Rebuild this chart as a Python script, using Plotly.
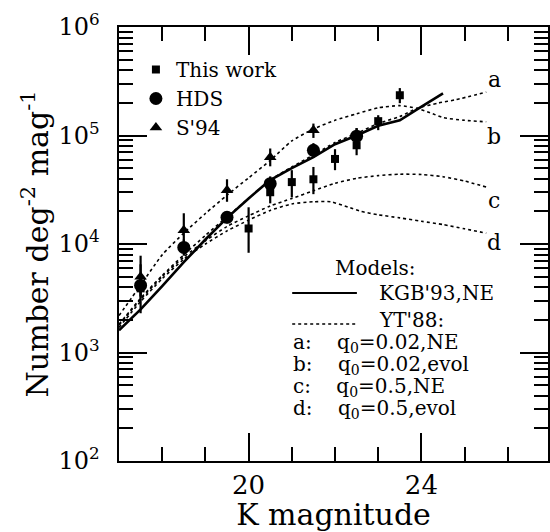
import plotly.graph_objects as go

# ---------------- data ----------------
# This work (squares)
k_this = [17.5, 20.0, 20.5, 21.0, 21.5, 22.0, 22.5, 23.0, 23.5]
n_this = [3900, 13900, 30000, 37200, 39500, 60800, 81300, 135600, 235000]
n_this_hi = [6500, 21800, 41200, 47900, 51300, 74800, 116700, 153800, 273500]
n_this_lo = [2300, 8300, 23700, 26900, 28800, 47900, 65800, 112000, 198600]

# HDS (circles)
k_hds = [17.5, 18.5, 19.5, 20.5, 21.5, 22.5]
n_hds = [4150, 9300, 17600, 36000, 73000, 98600]
n_hds_hi = [5200, 11000, 20000, 42000, 85000, 117000]
n_hds_lo = [3300, 7800, 15500, 31000, 63000, 85000]

# S'94 (triangles)
k_s94 = [17.5, 18.5, 19.5, 20.5, 21.5]
n_s94 = [5000, 13400, 31300, 63000, 112000]
n_s94_hi = [7800, 19200, 39500, 75900, 128800]
n_s94_lo = [3200, 9300, 24500, 52000, 95000]

# KGB'93 NE model (solid)
k_kgb = [17.0, 17.5, 18.0, 18.5, 19.0, 19.5, 20.0, 20.5, 21.0, 21.5, 22.0, 22.5,
         23.0, 23.5, 23.9, 24.5]
n_kgb = [1600, 2500, 4100, 6800, 11000, 17400, 26300, 38900, 50100, 63100, 83200,
         100000, 123000, 138000, 174000, 245000]

# YT'88 models (dotted)
k_a = [17.0, 17.5, 18.0, 18.5, 19.0, 19.5, 20.0, 20.5, 21.0, 21.5, 22.0, 22.5, 23.0,
       23.5, 23.9, 24.4, 24.8, 25.5]
n_a = [1820, 3160, 5130, 7940, 12000, 17800, 26300, 38900, 51300, 66100, 86100,
       104700, 128800, 149600, 177800, 199500, 213800, 251200]

k_b = [17.0, 17.5, 18.0, 18.5, 19.0, 19.5, 20.0, 20.5, 21.0, 21.5, 22.0, 22.5, 23.0,
       23.5, 23.9, 24.2, 24.5, 25.0, 25.5]
n_b = [2190, 4170, 7940, 12600, 19100, 28200, 40700, 58900, 89100, 114800, 138000,
       158500, 179900, 188400, 177800, 162200, 146200, 138000, 133700]

k_c = [17.0, 17.5, 18.0, 18.5, 19.0, 19.5, 20.0, 20.5, 21.0, 21.5, 22.0, 22.5, 23.0,
       23.5, 24.0, 24.5, 25.0, 25.5]
n_c = [1780, 3090, 5010, 7590, 10700, 14500, 18200, 22400, 26300, 30900, 36300,
       40300, 42700, 44000, 43700, 41700, 38000, 33500]

k_d = [17.0, 17.5, 18.0, 18.5, 19.0, 19.5, 20.0, 20.5, 21.0, 21.5, 21.9, 22.3, 22.6,
       23.0, 23.5, 24.0, 24.5, 25.0, 25.5]
n_d = [1700, 2950, 4790, 7240, 10000, 13200, 16600, 20400, 23400, 24500, 24500,
       21900, 20000, 18600, 17400, 16200, 15100, 13800, 12600]

curve_labels = ["a", "b", "c", "d"]
model_lines = ["a:&nbsp;&nbsp;&nbsp; q<sub>0</sub>=0.02,NE",
               "b:&nbsp;&nbsp;&nbsp; q<sub>0</sub>=0.02,evol",
               "c:&nbsp;&nbsp;&nbsp; q<sub>0</sub>=0.5,NE",
               "d:&nbsp;&nbsp;&nbsp; q<sub>0</sub>=0.5,evol"]

x_major = [20, 24]
x_minor = [18, 19, 21, 22, 23, 25, 26]
y_major = [1e2, 1e3, 1e4, 1e5, 1e6]
y_major_text = ["10<sup>%d</sup>&nbsp;&#8201;" % e for e in range(2, 7)]

# ---------------- figure ----------------
FONT = "DejaVu Serif"
W, H = 550, 532
L, R, T, B = 119, 0, 27, 71
PW, PH = W - L - R, H - T - B


def px(xp):
    return (xp - L) / PW


def py(yp):
    return (H - B - yp) / PH


def errs(n, hi, lo):
    return dict(type="data", symmetric=False,
                array=[h - v for h, v in zip(hi, n)],
                arrayminus=[v - l for v, l in zip(n, lo)],
                color="black", thickness=2.2, width=0)


fig = go.Figure()

dot = dict(color="black", width=1.6, dash="dot")
for kk, nn in [(k_a, n_a), (k_b, n_b), (k_c, n_c), (k_d, n_d)]:
    fig.add_trace(go.Scatter(x=kk, y=nn, mode="lines",
                             line=dict(shape="spline", smoothing=0.6, **dot),
                             showlegend=False, hoverinfo="skip"))

fig.add_trace(go.Scatter(x=k_kgb, y=n_kgb, mode="lines",
                         line=dict(color="black", width=2.6), showlegend=False))

fig.add_trace(go.Scatter(x=k_this, y=n_this, mode="markers", name="This work",
                         marker=dict(symbol="square", size=8, color="black"),
                         error_y=errs(n_this, n_this_hi, n_this_lo)))
fig.add_trace(go.Scatter(x=k_hds, y=n_hds, mode="markers", name="HDS",
                         marker=dict(symbol="circle", size=13, color="black"),
                         error_y=errs(n_hds, n_hds_hi, n_hds_lo)))
fig.add_trace(go.Scatter(x=k_s94, y=n_s94, mode="markers", name="S'94",
                         marker=dict(symbol="triangle-up", size=11, color="black"),
                         error_y=errs(n_s94, n_s94_hi, n_s94_lo)))

minor_y = [m * 10 ** e for e in range(2, 6) for m in range(2, 10)]

fig.update_layout(
    width=W, height=H,
    margin=dict(l=L, r=R, t=T, b=B, pad=0),
    paper_bgcolor="white", plot_bgcolor="white",
    font=dict(family=FONT, color="black", size=20),
    showlegend=True,
    legend=dict(x=px(136), y=py(50), xanchor="left", yanchor="top",
                font=dict(family=FONT, size=20), bgcolor="rgba(0,0,0,0)",
                tracegroupgap=0, itemwidth=30),
    xaxis=dict(range=[17, 26.93], showgrid=False, zeroline=False,
               showline=True, linecolor="black", linewidth=2, mirror="ticks",
               ticks="inside", ticklen=28, tickwidth=1.6, tickcolor="black",
               tickmode="array", tickvals=x_major, ticktext=[str(v) for v in x_major],
               tickfont=dict(family=FONT, size=26),
               minor=dict(tickmode="array", tickvals=x_minor,
                          ticks="inside", ticklen=14, tickwidth=1.6, tickcolor="black",
                          showgrid=False),
               title=dict(text="K magnitude", font=dict(family=FONT, size=30), standoff=0)),
    yaxis=dict(type="log", range=[2, 6], showgrid=False, zeroline=False,
               showline=True, linecolor="black", linewidth=2, mirror="ticks",
               ticks="inside", ticklen=28, tickwidth=1.6, tickcolor="black",
               tickmode="array", tickvals=y_major, ticktext=y_major_text,
               tickfont=dict(family=FONT, size=24),
               minor=dict(tickmode="array", tickvals=minor_y,
                          ticks="inside", ticklen=14, tickwidth=1.6, tickcolor="black",
                          showgrid=False)),
)

# y axis title (placed in the left margin)
fig.add_annotation(x=px(35), y=py(244), xref="paper", yref="paper",
                   text="Number deg<sup>-2</sup> mag<sup>-1</sup>", textangle=-90,
                   showarrow=False, font=dict(family=FONT, size=30),
                   xanchor="center", yanchor="middle")

# curve labels on the right
for lab, yp in zip(curve_labels, [80, 136, 200, 243]):
    fig.add_annotation(x=px(496), y=py(yp), xref="paper", yref="paper", text=lab,
                       showarrow=False, font=dict(family=FONT, size=22),
                       xanchor="center", yanchor="middle")

# models key
KEY = 20
fig.add_annotation(x=px(377), y=py(268), xref="paper", yref="paper", text="Models:",
                   showarrow=False, font=dict(family=FONT, size=KEY),
                   xanchor="center", yanchor="middle")
fig.add_annotation(x=px(378), y=py(293), xref="paper", yref="paper", text="KGB'93,NE",
                   showarrow=False, font=dict(family=FONT, size=KEY),
                   xanchor="left", yanchor="middle")
fig.add_annotation(x=px(378), y=py(320), xref="paper", yref="paper", text="YT'88:",
                   showarrow=False, font=dict(family=FONT, size=KEY),
                   xanchor="left", yanchor="middle")
fig.add_shape(type="line", xref="paper", yref="paper", x0=px(293), x1=px(358),
              y0=py(293), y1=py(293), line=dict(color="black", width=2.2))
fig.add_shape(type="line", xref="paper", yref="paper", x0=px(293), x1=px(358),
              y0=py(324), y1=py(324), line=dict(color="black", width=1.4, dash="dot"))
for txt, yp in zip(model_lines, [343, 365, 387, 409]):
    fig.add_annotation(x=px(292), y=py(yp), xref="paper", yref="paper", text=txt,
                       showarrow=False, font=dict(family=FONT, size=KEY),
                       xanchor="left", yanchor="middle")

fig.write_html("out.html", config={"displayModeBar": False},
               post_script="document.body.style.margin='0';document.body.style.padding='0';")
